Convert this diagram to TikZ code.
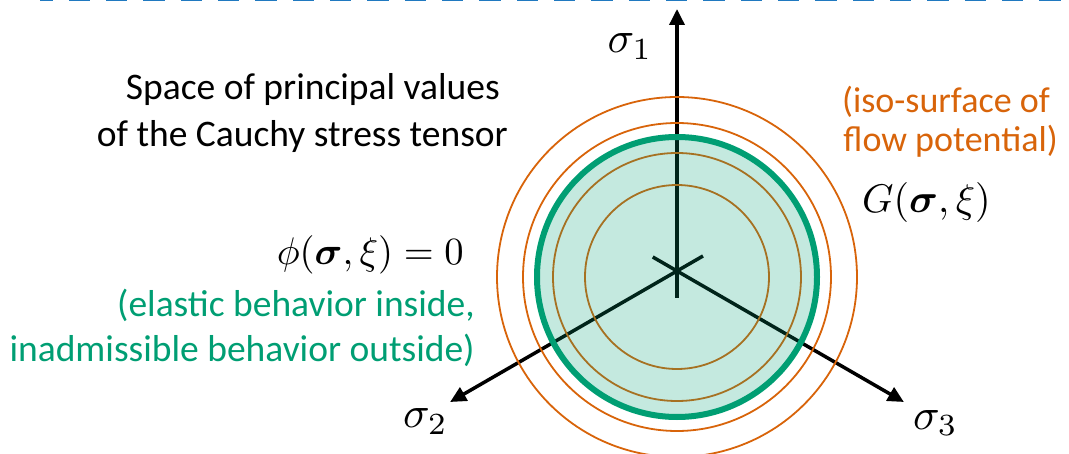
\documentclass[tikz,border=0pt]{standalone}
\usepackage{graphicx}
\usepackage{bm}
\usepackage{fontspec}
\newfontfamily\carlito{Carlito}
\usetikzlibrary{arrows.meta,calc}
\definecolor{ogreen}{HTML}{009E73}
\definecolor{oorange}{HTML}{D8640A}
\definecolor{oblue}{HTML}{2079C0}
\tikzset{
  axisline/.style={line width=3.5pt, black},
  axisarrow/.style={axisline, -{Triangle[length=16pt,width=15pt]}},
  flowcurve/.style={oorange, line width=1.8pt},
  yieldsurf/.style={ogreen, line width=6pt, fill=ogreen, fill opacity=0.23},
  bodytext/.style={font=\carlito\fontsize{37.5}{45}\selectfont, inner sep=0pt, anchor=base east},
  isotext/.style={bodytext, text=oorange, font=\carlito\fontsize{36}{43}\selectfont},
  greentext/.style={bodytext, text=ogreen},
  mathlabel/.style={inner sep=0pt},
  axislabel/.style={inner sep=0pt, anchor=base},
  topdash/.style={oblue, line width=5pt, dash pattern=on 21.33pt off 16pt, dash phase=8.67pt},
}
\begin{document}
\begin{tikzpicture}[x=1pt,y=-1pt]
\useasboundingbox (0,0) rectangle (1069,454);
% top dashed border
\coordinate (dl) at (40,-1);
\coordinate (dr) at (1075,-1);
\draw[topdash] (dl) -- (dr);
% axes
\coordinate (O) at (677,271);
\coordinate (C) at (677,277);
\coordinate (t1) at (677,9);
\coordinate (t2) at ($(O)+(150:262)$);
\coordinate (t3) at ($(O)+(30:262)$);
\coordinate (b1) at ($(O)+(0,27)$);
\coordinate (b2) at ($(O)+(330:30)$);
\coordinate (b3) at ($(O)+(210:28)$);
\draw[axisarrow] (b1) -- (t1);
\draw[axisarrow] (b2) -- (t2);
\draw[axisarrow] (b3) -- (t3);
% inner flow potential iso-surfaces
\draw[flowcurve] (C) circle[radius=92];
\draw[flowcurve] (C) circle[radius=124];
% yield surface
\draw[yieldsurf] (C) circle[radius=140];
% outer flow potential iso-surfaces
\draw[flowcurve] (C) circle[radius=154];
\draw[flowcurve] (C) circle[radius=180];
% axis labels
\node[axislabel] (s1) at (630,53) {\scalebox{4.4}{$\sigma_1$}};
\node[axislabel] (s2) at (425.5,428) {\scalebox{4.4}{$\sigma_2$}};
\node[axislabel] (s3) at (935.5,429) {\scalebox{4.4}{$\sigma_3$}};
% formulas
\node[mathlabel, anchor=east] (phi) at (464,255) {\scalebox{3.85}{$\phi(\bm{\sigma},\xi)=0$}};
\node[mathlabel] (G) at (926.5,203) {\scalebox{4}{$G(\bm{\sigma},\xi)$}};
% texts
\node[bodytext] (space1) at (500,100) {Space of principal values};
\node[bodytext] (space2) at (508,147) {of the Cauchy stress tensor};
\node[greentext] (elastic1) at (475,317) {(elastic behavior inside,};
\node[greentext] (elastic2) at (475,362) {inadmissible behavior outside)};
\node[isotext] (iso1) at (1050,113) {(iso-surface of};
\node[isotext] (iso2) at (1058,152) {flow potential)};
\end{tikzpicture}
\end{document}
